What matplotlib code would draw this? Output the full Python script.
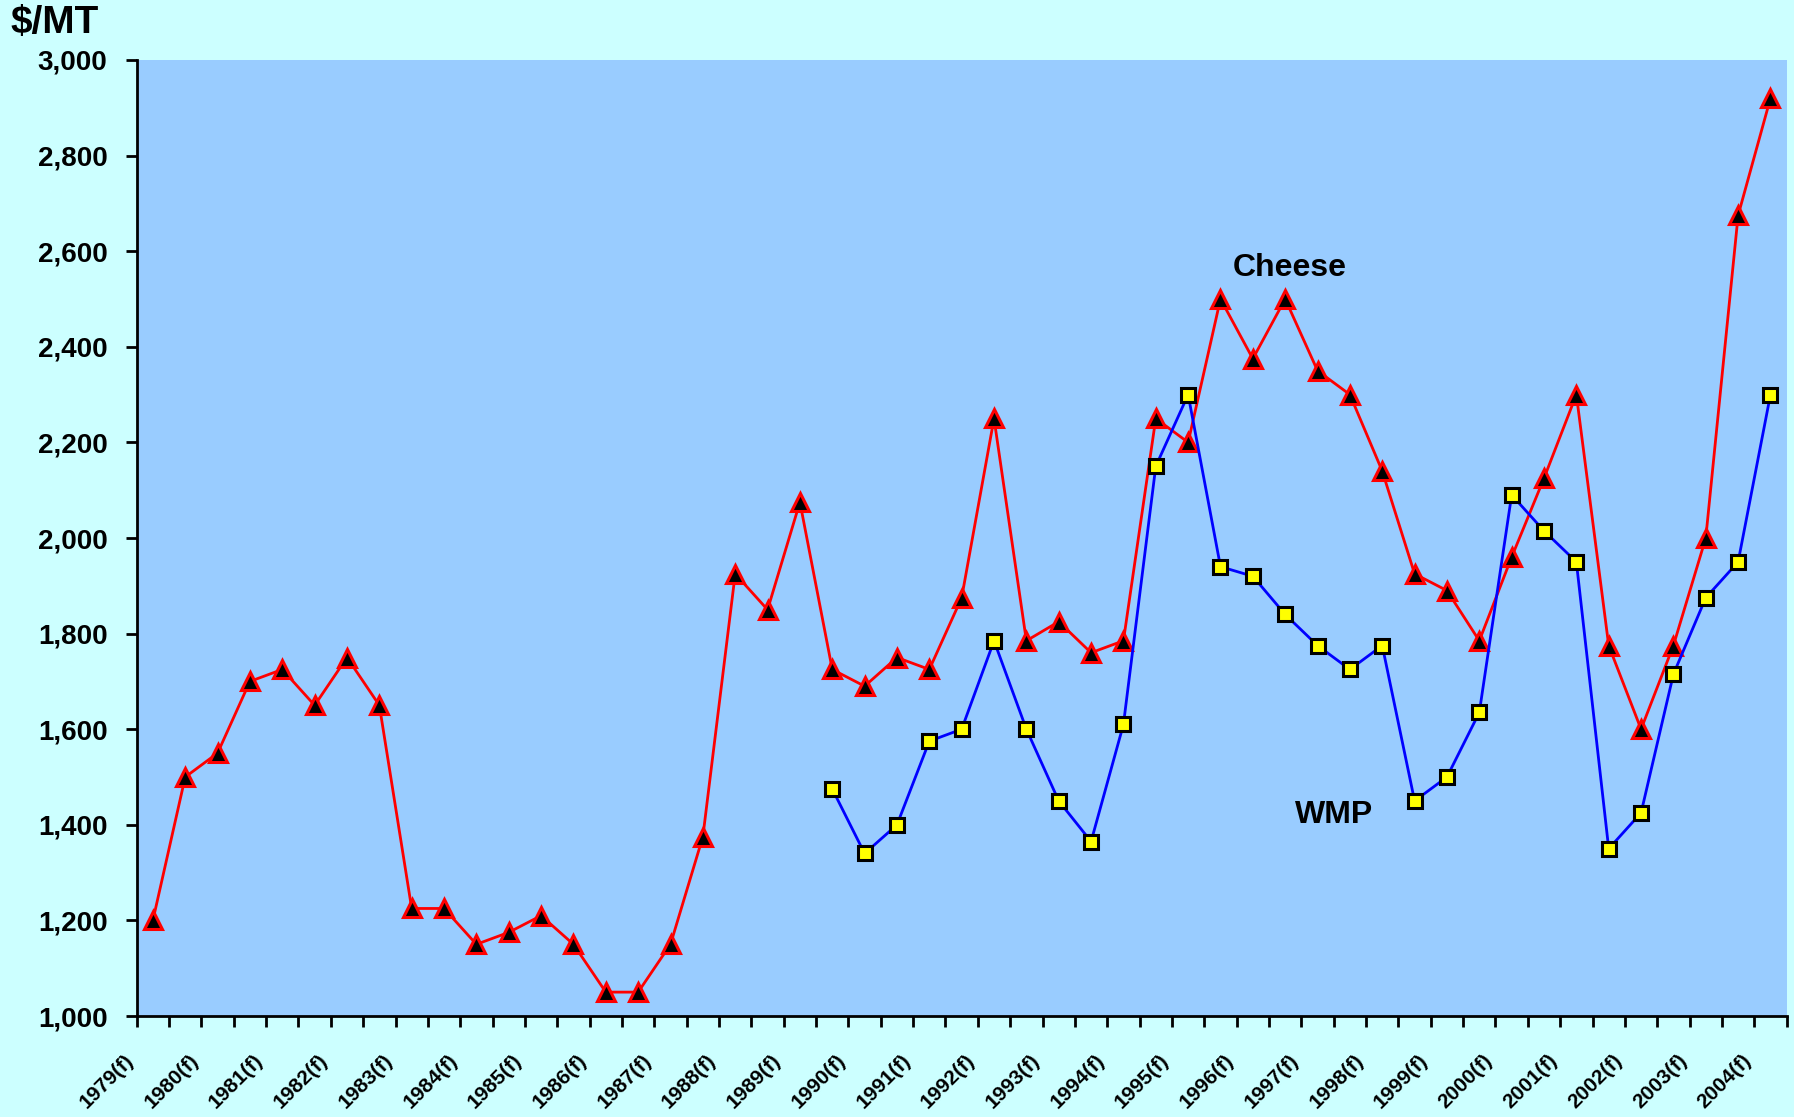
import matplotlib
matplotlib.use('Agg')
import matplotlib.pyplot as plt
import matplotlib.transforms as mtransforms
import numpy as np

plt.rcParams['font.family'] = ['Liberation Sans', 'DejaVu Sans']

# --- data: half-yearly points, labelled every other one ---
years = list(range(1979, 2005))
labels = []
for y in years:
    labels += [f'{y}(f)', '']
labels = labels[:51]

cheese = [1200, 1500, 1550, 1700, 1725, 1650, 1750, 1650, 1225, 1225,
          1150, 1175, 1210, 1150, 1050, 1050, 1150, 1375, 1925, 1850,
          2075, 1725, 1690, 1750, 1725, 1875, 2250, 1785, 1825, 1760,
          1785, 2250, 2200, 2500, 2375, 2500, 2350, 2300, 2140, 1925,
          1890, 1785, 1960, 2125, 2300, 1775, 1600, 1775, 2000, 2675,
          2920]

wmp_start = 21
wmp = [1475, 1340, 1400, 1575, 1600, 1785, 1600, 1450, 1365, 1610,
       2150, 2300, 1940, 1920, 1840, 1775, 1725, 1775, 1450, 1500,
       1635, 2090, 2015, 1950, 1350, 1425, 1715, 1875, 1950, 2300]

BG = '#CCFFFF'
PLOT_BG = '#99CCFF'

fig = plt.figure(figsize=(17.94, 11.17), dpi=100, facecolor=BG)
ax = fig.add_axes([0.0762, 0.0904, 0.9197, 0.8559])
ax.set_facecolor(PLOT_BG)

x = np.arange(len(cheese))
xw = np.arange(wmp_start, wmp_start + len(wmp))

ax.plot(x, cheese, color='#FF0000', lw=2, marker='^', ms=13,
        markerfacecolor='black', markeredgecolor='#FF0000', mew=2.2, zorder=3)
ax.plot(xw, wmp, color='#0000FF', lw=2, marker='s', ms=10,
        markerfacecolor='#FFFF00', markeredgecolor='black', mew=2.2, zorder=4)

ax.set_xlim(-0.5, len(cheese) - 0.5)
ax.set_ylim(1000, 3000)
ax.set_yticks(np.arange(1000, 3001, 200))
ax.yaxis.set_major_formatter(matplotlib.ticker.FuncFormatter(lambda v, p: f'{v:,.0f}'))

for s in ['top', 'right']:
    ax.spines[s].set_visible(False)
for s in ['left', 'bottom']:
    ax.spines[s].set_linewidth(2)

ax.tick_params(axis='y', direction='out', length=8, width=2, pad=13,
               labelsize=20)
for t in ax.get_yticklabels():
    t.set_fontweight('bold')

# category boundaries get the tick marks, labels sit under every other point
ax.set_xticks(np.arange(-0.5, len(cheese)), minor=True)
ax.tick_params(axis='x', which='minor', direction='out', length=8, width=2)
ax.set_xticks(x)
ax.set_xticklabels(labels, rotation=45, ha='right', va='center',
                   rotation_mode='anchor', fontsize=15, fontweight='bold')
ax.tick_params(axis='x', which='major', length=0, pad=30)
offset = mtransforms.ScaledTranslation(-0.22, 0, fig.dpi_scale_trans)
for t in ax.get_xticklabels():
    t.set_transform(t.get_transform() + offset)

ax.text(35.15, 2565, 'Cheese', fontsize=23, fontweight='bold',
        ha='center', va='center')
ax.text(36.5, 1420, 'WMP', fontsize=23, fontweight='bold',
        ha='center', va='center')

fig.text(0.006, 0.979, '$/MT', fontsize=28, fontweight='bold',
         ha='left', va='center')

fig.savefig('out.png', dpi=100, facecolor=BG)
